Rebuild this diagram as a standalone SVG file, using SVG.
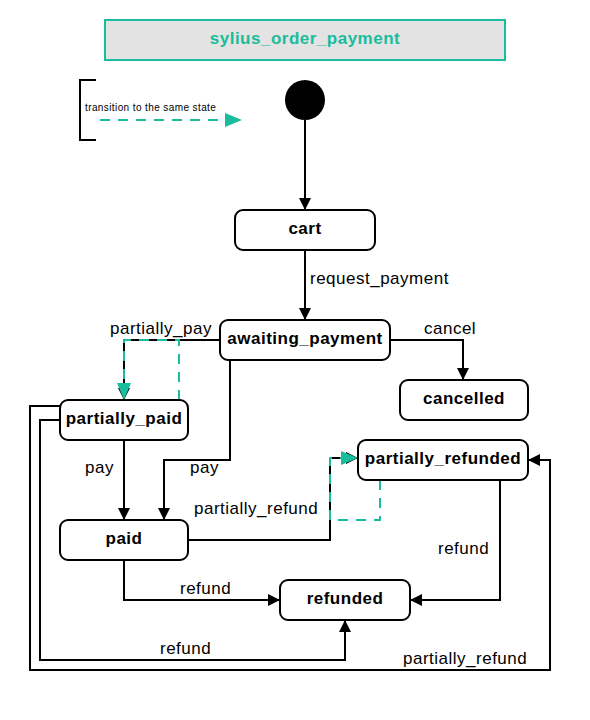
<svg xmlns="http://www.w3.org/2000/svg" width="590" height="720" viewBox="0 0 590 720">
<style>
.node rect{fill:#fff;stroke:#000;stroke-width:2}
.nl{font-family:"Liberation Sans",Arial,sans-serif;font-size:17px;letter-spacing:0.5px;font-weight:bold;text-anchor:middle;fill:#000}
.el{font-family:"Liberation Sans",Arial,sans-serif;font-size:17px;letter-spacing:0.5px;fill:#000}
.e{fill:none;stroke:#000;stroke-width:2}
.d{fill:none;stroke:#1abc9c;stroke-width:2;stroke-dasharray:10 8}
</style>
<defs>
<marker id="a" markerUnits="userSpaceOnUse" markerWidth="12" markerHeight="12" refX="12" refY="6" orient="auto"><path d="M0,0 L12,6 L0,12 z" fill="#000"/></marker>
<marker id="t" markerUnits="userSpaceOnUse" markerWidth="17" markerHeight="14" refX="17" refY="7" orient="auto"><path d="M0,0 L17,7 L0,14 z" fill="#1abc9c"/></marker>
</defs>
<g id="title"><rect x="105" y="20" width="400" height="40" fill="#e3e3e3" stroke="#1abc9c" stroke-width="2"/><text x="305" y="44" class="nl" style="fill:#1abc9c">sylius_order_payment</text></g>
<g id="legend">
<path d="M96,80 H80 V140 H96" fill="none" stroke="#000" stroke-width="2"/>
<text x="85" y="111" font-family="Liberation Sans,Arial,sans-serif" font-size="10" letter-spacing="0.4">transition to the same state</text>
<path d="M100,120 H242" class="d" marker-end="url(#t)"/>
</g>
<g id="connectors">
<path class="e" d="M305,120 V210" marker-end="url(#a)"/>
<path class="e" d="M305,250 V320" marker-end="url(#a)"/>
<text class="el" x="310" y="284">request_payment</text>
<path class="e" d="M390,340 H463 V380" marker-end="url(#a)"/>
<text class="el" x="424" y="334">cancel</text>
<path class="e" d="M220,340 H124 V400" marker-end="url(#a)"/>
<text class="el" x="110" y="334">partially_pay</text>
<path class="d" d="M179,400 V340 H124 V400" marker-end="url(#t)"/>
<path class="e" d="M124,440 V520" marker-end="url(#a)"/>
<text class="el" x="85" y="473">pay</text>
<path class="e" d="M230,360 V460 H164 V520" marker-end="url(#a)"/>
<text class="el" x="190" y="473">pay</text>
<path class="e" d="M188,540 H330 V458 H358" marker-end="url(#a)"/>
<text class="el" x="194" y="514">partially_refund</text>
<path class="d" d="M380,480 V520 H330 V458 H358" marker-end="url(#t)"/>
<path class="e" d="M500,480 V600 H410" marker-end="url(#a)"/>
<text class="el" x="438" y="554">refund</text>
<path class="e" d="M124,560 V600 H280" marker-end="url(#a)"/>
<text class="el" x="180" y="594">refund</text>
<path class="e" d="M60,420 H40 V660 H345 V620" marker-end="url(#a)"/>
<text class="el" x="160" y="654">refund</text>
<path class="e" d="M60,406 H30 V670 H550 V460 H528" marker-end="url(#a)"/>
<text class="el" x="403" y="664">partially_refund</text>
</g>
<g id="initial"><circle cx="305" cy="100" r="20" fill="#000"/></g>
<g id="cart" class="node"><rect x="235" y="210" width="140" height="40" rx="8"/><text class="nl" x="305" y="234">cart</text></g>
<g id="awaiting_payment" class="node"><rect x="220" y="320" width="170" height="40" rx="8"/><text class="nl" x="305" y="344">awaiting_payment</text></g>
<g id="cancelled" class="node"><rect x="400" y="380" width="128" height="40" rx="8"/><text class="nl" x="464" y="404">cancelled</text></g>
<g id="partially_paid" class="node"><rect x="60" y="400" width="128" height="40" rx="8"/><text class="nl" x="124" y="424">partially_paid</text></g>
<g id="paid" class="node"><rect x="60" y="520" width="128" height="40" rx="8"/><text class="nl" x="124" y="544">paid</text></g>
<g id="partially_refunded" class="node"><rect x="358" y="440" width="170" height="40" rx="8"/><text class="nl" x="443" y="464">partially_refunded</text></g>
<g id="refunded" class="node"><rect x="280" y="580" width="130" height="40" rx="8"/><text class="nl" x="345" y="604">refunded</text></g>
</svg>
